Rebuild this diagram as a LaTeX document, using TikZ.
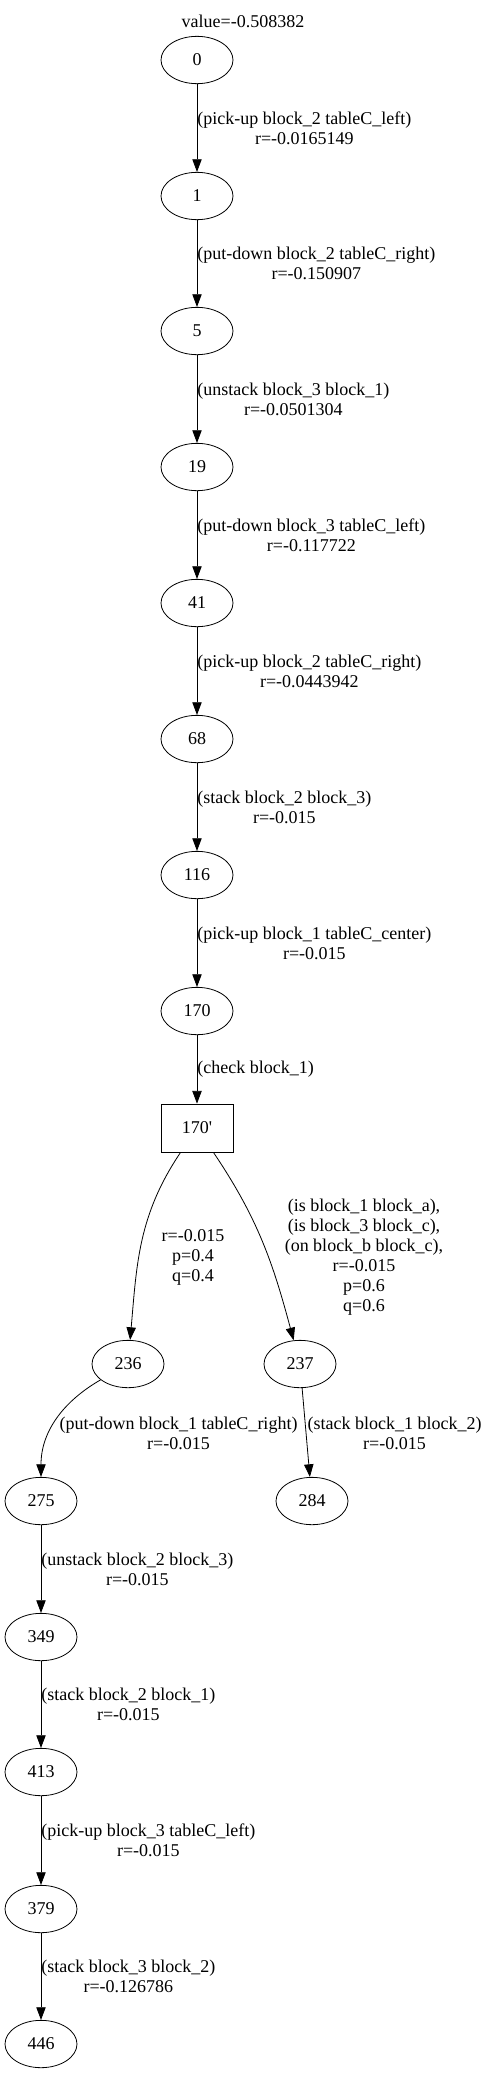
\documentclass[tikz,border=0pt]{standalone}
\usepackage{fontspec}
\setmainfont{Liberation Serif}
\usetikzlibrary{arrows.meta,shapes.geometric,positioning}

\begin{document}
\begin{tikzpicture}[x=0.75pt,y=0.75pt,>={Triangle[length=9.5pt,width=7pt]},
  font=\fontsize{13.5}{15}\selectfont,
  stnode/.style={draw,ellipse,line width=0.6pt,minimum width=54pt,minimum height=35.5pt,inner sep=0pt},
  chknode/.style={draw,rectangle,line width=0.6pt,minimum width=54pt,minimum height=36pt,inner sep=0pt},
  arc/.style={->,line width=0.6pt},
  arclbl/.style={anchor=west,inner sep=0pt,align=center},
  brlbl/.style={inner sep=0pt,align=center}]
  \useasboundingbox (0,0) rectangle (488,-2075);
  %% Title
  \node (value) at (243,-21) {value=-0.508382};
  %% Main chain
  \node[stnode] (n0)   at (197,-60)   {0};
  \node[stnode] (n1)   at (197,-196)  {1};
  \node[stnode] (n5)   at (197,-331)  {5};
  \node[stnode] (n19)  at (197,-467)  {19};
  \node[stnode] (n41)  at (197,-603)  {41};
  \node[stnode] (n68)  at (197,-739)  {68};
  \node[stnode] (n116) at (197,-875)  {116};
  \node[stnode] (n170) at (197,-1011) {170};
  \node[chknode] (n170c) at (197,-1128) {170\textquotesingle};
  %% Branches
  \node[stnode] (n236) at (128,-1364) {236};
  \node[stnode] (n237) at (300,-1364) {237};
  \node[stnode] (n275) at (41,-1501)  {275};
  \node[stnode] (n284) at (312,-1501) {284};
  \node[stnode] (n349) at (41,-1637)  {349};
  \node[stnode] (n413) at (41,-1772)  {413};
  \node[stnode] (n379) at (41,-1909)  {379};
  \node[stnode] (n446) at (41,-2044)  {446};
  %% Actions
  \draw[arc] (n0) -- node[arclbl] (a0) {(pick-up block\_2 tableC\_left)\\r=-0.0165149} (n1);
  \draw[arc] (n1) -- node[arclbl] (a1) {(put-down block\_2 tableC\_right)\\r=-0.150907} (n5);
  \draw[arc] (n5) -- node[arclbl] (a5) {(unstack block\_3 block\_1)\\r=-0.0501304} (n19);
  \draw[arc] (n19) -- node[arclbl] (a19) {(put-down block\_3 tableC\_left)\\r=-0.117722} (n41);
  \draw[arc] (n41) -- node[arclbl] (a41) {(pick-up block\_2 tableC\_right)\\r=-0.0443942} (n68);
  \draw[arc] (n68) -- node[arclbl] (a68) {(stack block\_2 block\_3)\\r=-0.015} (n116);
  \draw[arc] (n116) -- node[arclbl] (a116) {(pick-up block\_1 tableC\_center)\\r=-0.015} (n170);
  \draw[arc] (n170) -- node[arclbl] (a170) {(check block\_1)} (n170c);
  %% Outcomes of the check
  \draw[arc] (n170c) to[out=-124,in=85] (n236);
  \draw[arc] (n170c) to[out=-56,in=105] (n237);
  \node[brlbl] (o236) at (193,-1257) {r=-0.015\\p=0.4\\q=0.4};
  \node[brlbl] (o237) at (364,-1257)
    {(is block\_1 block\_a),\\(is block\_3 block\_c),\\(on block\_b block\_c),\\r=-0.015\\p=0.6\\q=0.6};
  \draw[arc] (n236) to[out=210,in=90] (n275);
  \node[brlbl] (a236) at (178.5,-1433) {(put-down block\_1 tableC\_right)\\r=-0.015};
  \draw[arc] (n237) -- (n284);
  \node[brlbl] (a237) at (394.5,-1433) {(stack block\_1 block\_2)\\r=-0.015};
  \draw[arc] (n275) -- node[arclbl] (a275) {(unstack block\_2 block\_3)\\r=-0.015} (n349);
  \draw[arc] (n349) -- node[arclbl] (a349) {(stack block\_2 block\_1)\\r=-0.015} (n413);
  \draw[arc] (n413) -- node[arclbl] (a413) {(pick-up block\_3 tableC\_left)\\r=-0.015} (n379);
  \draw[arc] (n379) -- node[arclbl] (a379) {(stack block\_3 block\_2)\\r=-0.126786} (n446);
\end{tikzpicture}
\end{document}
